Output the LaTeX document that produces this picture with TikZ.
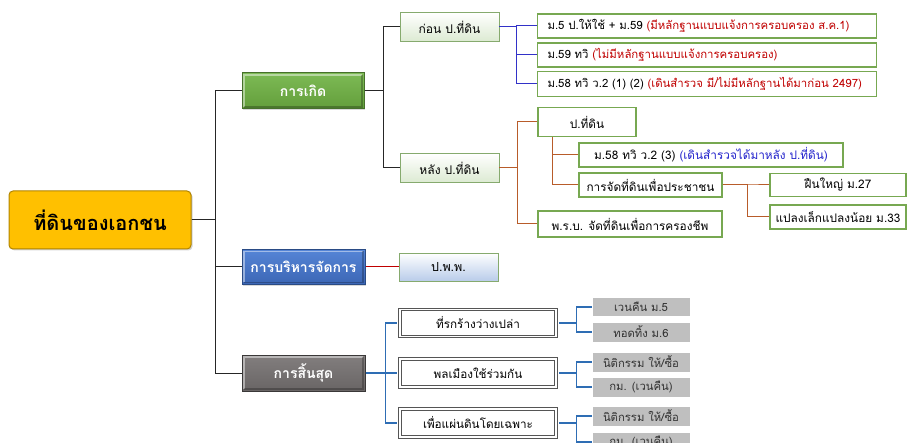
\documentclass[tikz,border=0pt]{standalone}
\usepackage{fontspec}
\newfontfamily\thai[Script=Thai]{Loma}
\usetikzlibrary{shadows}

\definecolor{rootfill}{HTML}{FFC000}
\definecolor{rootline}{HTML}{B08400}
\definecolor{greentop}{HTML}{7DBA55}
\definecolor{greenbot}{HTML}{639E3B}
\definecolor{greenline}{HTML}{46702B}
\definecolor{bluetop}{HTML}{5585D6}
\definecolor{bluebot}{HTML}{3C66B5}
\definecolor{blueline}{HTML}{2A4B85}
\definecolor{graytop}{HTML}{827E7E}
\definecolor{graybot}{HTML}{696565}
\definecolor{grayline}{HTML}{3A3838}
\definecolor{frameline}{HTML}{555555}
\definecolor{paleline}{HTML}{86AA6E}
\definecolor{palegreen}{HTML}{DCEAD2}
\definecolor{paleblue}{HTML}{B9CCEA}
\definecolor{leafline}{HTML}{77A851}
\definecolor{leaffill}{HTML}{BFBFBF}
\definecolor{txtred}{HTML}{C00000}
\definecolor{txtblue}{HTML}{2222CC}
\definecolor{trunk}{HTML}{262626}
\definecolor{linkblue}{HTML}{3232C8}
\definecolor{linkbrown}{HTML}{B85C2A}
\definecolor{linkred}{HTML}{C00000}
\definecolor{linksky}{HTML}{2E6DB4}

\newcommand{\notepad}{\hspace*{10pt}}

\tikzset{
  base/.style={inner sep=0pt, align=center, text=black},
  rootbox/.style={base, rounded corners=4pt, fill=rootfill, draw=rootline,
    line width=1pt, font=\thai\bfseries\fontsize{20}{22}\selectfont,
    drop shadow={shadow xshift=1.5pt, shadow yshift=-1.5pt, opacity=0.35}},
  % raised look: light edge top-left, dark edge bottom-right
  bevel/.style={path picture={
    \draw[white, opacity=0.45, line width=1.4pt]
      ([shift={(2pt,2pt)}]path picture bounding box.south west)
      |- ([shift={(-2pt,-2pt)}]path picture bounding box.north east);
    \draw[black, opacity=0.25, line width=1.4pt]
      ([shift={(2pt,2pt)}]path picture bounding box.south west)
      -| ([shift={(-2pt,-2pt)}]path picture bounding box.north east);}},
  catbox/.style={base, line width=1pt, text=white, bevel,
    font=\thai\bfseries\fontsize{14}{16}\selectfont,
    drop shadow={shadow xshift=1.2pt, shadow yshift=-1.2pt, opacity=0.3}},
  greencat/.style={catbox, top color=greentop, bottom color=greenbot, draw=greenline},
  bluecat/.style={catbox, top color=bluetop, bottom color=bluebot, draw=blueline},
  graycat/.style={catbox, top color=graytop, bottom color=graybot, draw=grayline},
  palebox/.style={base, top color=white, bottom color=palegreen, draw=paleline,
    line width=0.9pt, font=\thai\fontsize{12}{14}\selectfont},
  skybox/.style={base, top color=white, bottom color=paleblue, draw=paleline,
    line width=0.9pt, font=\thai\fontsize{12.5}{14}\selectfont},
  notebox/.style={base, fill=white, draw=leafline, line width=1.1pt,
    font=\thai\fontsize{11.8}{14}\selectfont},
  widenote/.style={notebox, anchor=west, text width=339pt, align=left,
    font=\thai\fontsize{11.4}{14}\selectfont},
  framebox/.style={base, preaction={fill=white}, draw=frameline, line width=3.4pt,
    postaction={draw=white, line width=1.2pt},
    font=\thai\fontsize{11.7}{14}\selectfont},
  greybox/.style={base, fill=leaffill, draw=white, line width=0.6pt,
    text=black!80, font=\thai\fontsize{11.3}{13}\selectfont},
  trunkline/.style={draw=trunk, line width=1pt},
  blueline/.style={draw=linkblue, line width=1pt},
  brownline/.style={draw=linkbrown, line width=1pt},
  redline/.style={draw=linkred, line width=1pt},
  skyline/.style={draw=linksky, line width=1.4pt},
}

\begin{document}
\begin{tikzpicture}[x=1pt, y=-1pt]
  \useasboundingbox (0,0) rectangle (907,443);
  \clip (0,0) rectangle (907,443);

  % root
  \node[rootbox, minimum width=182pt, minimum height=58pt] (root) at (100,220) {ที่ดินของเอกชน};

  % first level
  \node[greencat, minimum width=122pt, minimum height=36pt] (birth) at (303,91) {การเกิด};
  \node[bluecat, minimum width=123pt, minimum height=35pt] (admin) at (303.5,267) {การบริหารจัดการ};
  \node[graycat, minimum width=123pt, minimum height=36pt] (finish) at (303.5,373) {การสิ้นสุด};

  % birth branch
  \node[palebox, minimum width=99pt, minimum height=29pt] (before) at (449.5,27) {ก่อน ป.ที่ดิน};
  \node[palebox, minimum width=99pt, minimum height=29pt] (after) at (449.5,168) {หลัง ป.ที่ดิน};

  \node[widenote, minimum height=24pt] (b1) at (537,26)
    {\notepad ม.5 ป.ให้ใช้ + ม.59 \textcolor{txtred}{(มีหลักฐานแบบแจ้งการครอบครอง ส.ค.1)}};
  \node[widenote, minimum height=24pt] (b2) at (537,55)
    {\notepad ม.59 ทวิ \textcolor{txtred}{(ไม่มีหลักฐานแบบแจ้งการครอบครอง)}};
  \node[widenote, minimum height=25pt] (b3) at (537,84)
    {\notepad ม.58 ทวิ ว.2 (1) (2) \textcolor{txtred}{(เดินสำรวจ มี/ไม่มีหลักฐานได้มาก่อน 2497)}};

  \node[notebox, minimum width=98pt, minimum height=29pt] (code) at (587,122) {ป.ที่ดิน};
  \node[notebox, minimum width=184pt, minimum height=26pt] (act) at (630,224) {พ.ร.บ. จัดที่ดินเพื่อการครองชีพ};
  \node[notebox, minimum width=264pt, minimum height=24pt] (survey) at (711,155)
    {ม.58 ทวิ ว.2 (3) \textcolor{txtblue}{(เดินสำรวจได้มาหลัง ป.ที่ดิน)}};
  \node[notebox, minimum width=143pt, minimum height=24pt] (allot) at (650.5,185) {การจัดที่ดินเพื่อประชาชน};
  \node[notebox, minimum width=136pt, minimum height=23pt] (big) at (838,185) {ฝืนใหญ่ ม.27};
  \node[notebox, minimum width=136pt, minimum height=24pt] (small) at (838,217) {แปลงเล็กแปลงน้อย ม.33};

  % administration branch
  \node[skybox, minimum width=99pt, minimum height=28pt] (civil) at (448.5,267) {ป.พ.พ.};

  % termination branch
  \node[framebox, minimum width=156pt, minimum height=27pt] (e1) at (478,323) {ที่รกร้างว่างเปล่า};
  \node[framebox, minimum width=156pt, minimum height=28pt] (e2) at (478,373) {พลเมืองใช้ร่วมกัน};
  \node[framebox, minimum width=156pt, minimum height=28pt] (e3) at (478,423) {เพื่อแผ่นดินโดยเฉพาะ};

  \node[greybox, minimum width=98pt, minimum height=19pt] (g1) at (641,307) {เวนคืน ม.5};
  \node[greybox, minimum width=98pt, minimum height=20pt] (g2) at (641,332) {ทอดทิ้ง ม.6};
  \node[greybox, minimum width=98pt, minimum height=20pt] (g3) at (641,362) {นิติกรรม ให้/ซื้อ};
  \node[greybox, minimum width=98pt, minimum height=20pt] (g4) at (641,387) {กม. (เวนคืน)};
  \node[greybox, minimum width=98pt, minimum height=20pt] (g5) at (641,416) {นิติกรรม ให้/ซื้อ};
  \node[greybox, minimum width=98pt, minimum height=20pt] (g6) at (641,442) {กม. (เวนคืน)};

  % connectors
  \draw[trunkline] (root.east) -- ++(24,0) |- (birth.west);
  \draw[trunkline] (root.east) -- ++(24,0) |- (admin.west);
  \draw[trunkline] (root.east) -- ++(24,0) |- (finish.west);

  \draw[trunkline] (birth.east) -- ++(19,0) |- (before.west);
  \draw[trunkline] (birth.east) -- ++(19,0) |- (after.west);

  \draw[blueline] (before.east) -- ++(17,0) |- (b1.west);
  \draw[blueline] (before.east) -- ++(17,0) |- (b2.west);
  \draw[blueline] (before.east) -- ++(17,0) |- (b3.west);

  \draw[brownline] (after.east) -- ++(18,0) |- (code.west);
  \draw[brownline] (after.east) -- ++(18,0) |- (act.west);
  \draw[brownline] ([xshift=15pt]code.south west) |- (survey.west);
  \draw[brownline] ([xshift=15pt]code.south west) |- (allot.west);
  \draw[brownline] (allot.east) -- ++(25,0) |- (big.west);
  \draw[brownline] (allot.east) -- ++(25,0) |- (small.west);

  \draw[redline] (admin.east) -- (civil.west);

  \draw[skyline] (finish.east) -- ++(20,0) |- ([xshift=-1.7pt]e1.west);
  \draw[skyline] (finish.east) -- ++(20,0) |- ([xshift=-1.7pt]e2.west);
  \draw[skyline] (finish.east) -- ++(20,0) |- ([xshift=-1.7pt]e3.west);

  \draw[skyline] ([xshift=1.7pt]e1.east) -- ++(17,0) |- (g1.west);
  \draw[skyline] ([xshift=1.7pt]e1.east) -- ++(17,0) |- (g2.west);
  \draw[skyline] ([xshift=1.7pt]e2.east) -- ++(17,0) |- (g3.west);
  \draw[skyline] ([xshift=1.7pt]e2.east) -- ++(17,0) |- (g4.west);
  \draw[skyline] ([xshift=1.7pt]e3.east) -- ++(17,0) |- (g5.west);
  \draw[skyline] ([xshift=1.7pt]e3.east) -- ++(17,0) |- (g6.west);
\end{tikzpicture}
\end{document}
